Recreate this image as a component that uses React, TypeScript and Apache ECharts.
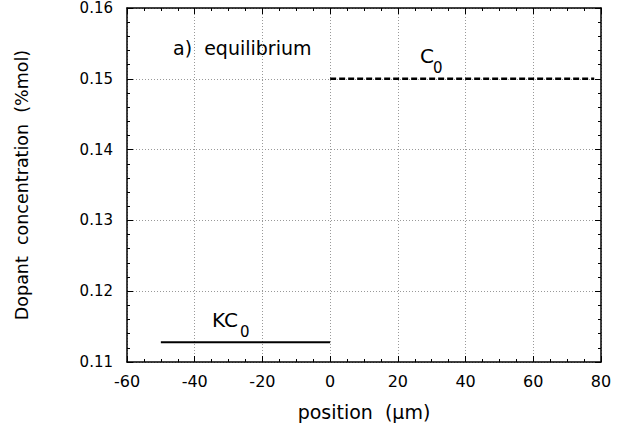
import React, { useEffect, useRef } from "react";
import * as echarts from "echarts";

const xTicks = [-60, -40, -20, 0, 20, 40, 60, 80];
const yTicks = [0.11, 0.12, 0.13, 0.14, 0.15, 0.16];
const kc0Line: [number, number][] = [[-50, 0.1128], [0, 0.1128]];
const c0Line: [number, number][] = [[0, 0.15], [78, 0.15]];

const FONT = "DejaVu Sans";

export default function App() {
  const ref = useRef<HTMLDivElement>(null);
  useEffect(() => {
    if (!ref.current) return;
    const chart = echarts.init(ref.current, null, { renderer: "svg" });
    const axisLine = { show: true, onZero: false, lineStyle: { color: "#000", width: 1.5 } };
    const splitLine = { show: true, lineStyle: { color: "#999", type: [1, 2] as any, width: 1 } };
    const tick = { show: true, inside: true, length: 6, lineStyle: { color: "#000" } };
    chart.setOption({
      animation: false,
      backgroundColor: "#fff",
      grid: { left: 127, right: 40, top: 8, bottom: 71 },
      xAxis: [
        {
          type: "value",
          position: "bottom",
          min: xTicks[0],
          max: xTicks[xTicks.length - 1],
          interval: 20,
          axisLine,
          axisTick: tick,
          minorTick: { show: true, splitNumber: 4, length: 3, lineStyle: { color: "#000" } },
          splitLine,
          axisLabel: { color: "#000", fontFamily: FONT, fontSize: 16, margin: 11 },
          name: "position  (µm)",
          nameLocation: "middle",
          nameGap: 40,
          nameTextStyle: { color: "#000", fontFamily: FONT, fontSize: 19 },
        },
        {
          type: "value",
          position: "top",
          min: xTicks[0],
          max: xTicks[xTicks.length - 1],
          interval: 20,
          axisLine,
          axisTick: tick,
          minorTick: { show: true, splitNumber: 4, length: 3, lineStyle: { color: "#000" } },
          splitLine: { show: false },
          axisLabel: { show: false },
        },
      ],
      yAxis: [
        {
          type: "value",
          position: "left",
          min: yTicks[0],
          max: yTicks[yTicks.length - 1],
          interval: 0.01,
          axisLine,
          axisTick: tick,
          minorTick: { show: true, splitNumber: 5, length: 3, lineStyle: { color: "#000" } },
          splitLine,
          axisLabel: {
            color: "#000",
            fontFamily: FONT,
            fontSize: 15,
            margin: 14,
            formatter: (v: number) => v.toFixed(2),
          },
          name: "Dopant  concentration  (%mol)",
          nameLocation: "middle",
          nameGap: 96,
          nameRotate: 90,
          nameTextStyle: { color: "#000", fontFamily: FONT, fontSize: 17.5 },
        },
        {
          type: "value",
          position: "right",
          min: yTicks[0],
          max: yTicks[yTicks.length - 1],
          interval: 0.01,
          axisLine,
          axisTick: tick,
          minorTick: { show: true, splitNumber: 5, length: 3, lineStyle: { color: "#000" } },
          splitLine: { show: false },
          axisLabel: { show: false },
        },
      ],
      series: [
        {
          type: "line",
          data: kc0Line,
          showSymbol: false,
          lineStyle: { color: "#000", width: 2 },
          z: 5,
        },
        {
          type: "line",
          data: c0Line,
          showSymbol: false,
          lineStyle: { color: "#000", width: 2.5, type: [6, 3] as any },
          z: 5,
        },
      ],
      graphic: [
        {
          type: "text",
          x: 173,
          y: 48,
          style: { text: "a)  equilibrium", fontFamily: FONT, fontSize: 19, fill: "#000", verticalAlign: "middle" },
        },
        {
          type: "text",
          x: 420,
          y: 56,
          style: { text: "C", fontFamily: FONT, fontSize: 20, fill: "#000", verticalAlign: "middle" },
        },
        {
          type: "text",
          x: 433,
          y: 68,
          style: { text: "0", fontFamily: FONT, fontSize: 15, fill: "#000", verticalAlign: "middle" },
        },
        {
          type: "text",
          x: 212,
          y: 320,
          style: { text: "KC", fontFamily: FONT, fontSize: 20, fill: "#000", verticalAlign: "middle" },
        },
        {
          type: "text",
          x: 240,
          y: 332,
          style: { text: "0", fontFamily: FONT, fontSize: 15, fill: "#000", verticalAlign: "middle" },
        },
      ],
    });
    return () => chart.dispose();
  }, []);
  return (
    <div
      ref={ref}
      style={{ position: "absolute", left: 0, top: 0, width: 641, height: 433 }}
    />
  );
}
